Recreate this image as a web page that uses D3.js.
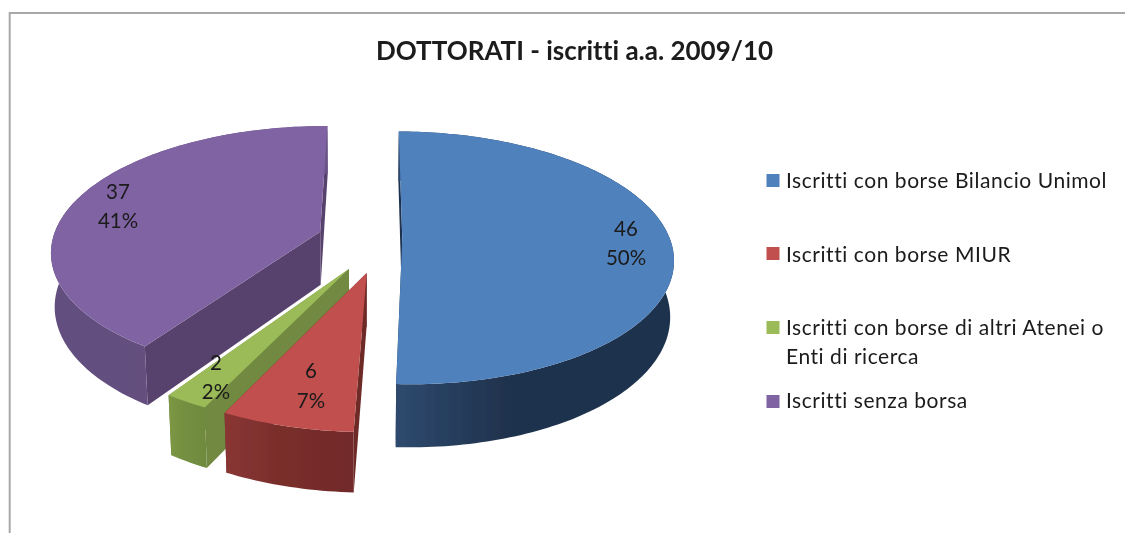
<!DOCTYPE html>
<html>
<head>
<meta charset="utf-8">
<script src="https://cdn.jsdelivr.net/npm/d3@7"></script>
<style>
html,body{margin:0;padding:0;background:#fff;overflow:hidden}
svg{display:block}
text{font-family:Lato,"Open Sans",sans-serif;fill:#1a1a1a;font-variant-ligatures:none}
</style>
</head>
<body>
<svg id="c" width="1125" height="533"></svg>
<script>
// ---- data ----
const categories = ["Iscritti con borse Bilancio Unimol","Iscritti con borse MIUR","Iscritti con borse di altri Atenei o Enti di ricerca","Iscritti senza borsa"];
const values = [46, 6, 2, 37];
const percentLabels = ["50%", "7%", "2%", "41%"];
const titleText = "DOTTORATI - iscritti a.a. 2009/10";

// ---- style / layout ----
const topColors = ["#4f81bd","#c0504d","#9bbb59","#8064a2"];
const faceColors = ["#1f334f","#6e2927","#71893f","#57426c"];
const rimGradient = [["#2e4a6e","#1f324d","#1f324d"],["#8a3634","#7a2e2c","#722a29"],["#7c9844","#748f40","#708a3e"],["#63507f","#65507f","#6a5388"]];
const legendBaselines = [[188],[262],[335,364],[408]];
const legendLines = [[categories[0]],[categories[1]],["Iscritti con borse di altri Atenei o","Enti di ricerca"],[categories[3]]];
const swatchTops = [174,247,321,395];
const labelPos = [[626,236,265],[311,378,408],[216,370,399],[118,199,228]];
// offset of each slice's apex on the disc (explosion) and its extruded depth
const explode = [[0.158,0.015],[0.024,0.281],[-0.04,0.25],[-0.15,-0.043]];
const depth = [56,52,53,54];
const P = {cx:360, cy:237, A:267, a:123, k:0.15, m:0.012};
const rotation = 0.0087;

const svg = d3.select("#c");
const defs = svg.append("defs");
defs.append("filter").attr("id","soft").attr("x","-5%").attr("y","-5%").attr("width","110%").attr("height","110%")
  .append("feGaussianBlur").attr("stdDeviation",0.45);
defs.append("filter").attr("id","softText").attr("x","-5%").attr("y","-20%").attr("width","110%").attr("height","140%")
  .append("feGaussianBlur").attr("stdDeviation",0.35);
rimGradient.forEach((g,i)=>{
  const lg = defs.append("linearGradient").attr("id","rim"+i);
  lg.append("stop").attr("offset","0%").attr("stop-color",g[0]);
  lg.append("stop").attr("offset","40%").attr("stop-color",g[1]);
  lg.append("stop").attr("offset","100%").attr("stop-color",g[2]);
});

// frame
svg.append("path").attr("d","M9.7,533V13H1125").attr("fill","none").attr("stroke","#a8a8a8").attr("stroke-width",2);

// pie layout: clockwise from the back of the disc
const arcs = d3.pie().sort(null).value(d=>d).startAngle(rotation).endAngle(2*Math.PI+rotation)(values);

// perspective projection of disc coordinates (z=0 top face, z=1 bottom face)
function project(u,v,z,d){
  const w = 1 - P.k*v + z*P.m;
  return [P.cx + P.A*u/w, P.cy + (P.a*v + z*d)/w];
}
const line = d3.line();
function rimAngles(s){
  const n = Math.max(4,Math.ceil((s.endAngle-s.startAngle)/0.02));
  return d3.range(n+1).map(i=>s.startAngle+(s.endAngle-s.startAngle)*i/n);
}
const pieG = svg.append("g").attr("filter","url(#soft)");
[3,2,1,0].forEach(i=>{
  const s = arcs[i], [u0,v0] = explode[i], d = depth[i];
  const rim = (t,z)=>project(u0+Math.sin(t),v0-Math.cos(t),z,d);
  const apex = z=>project(u0,v0,z,d);
  const ang = rimAngles(s);
  const g = pieG.append("g");
  // radial faces
  [s.startAngle,s.endAngle].forEach(t=>{
    g.append("path").attr("d",line([apex(0),rim(t,0),rim(t,1),apex(1)])+"Z").attr("fill",faceColors[i]);
  });
  // outer rim wall
  g.append("path")
    .attr("d",line(ang.map(t=>rim(t,0)).concat(ang.slice().reverse().map(t=>rim(t,1))))+"Z")
    .attr("fill","url(#rim"+i+")");
  // top face
  g.append("path")
    .attr("d",line([apex(0)].concat(ang.map(t=>rim(t,0))))+"Z")
    .attr("fill",topColors[i]);
});

// data labels
const labels = svg.append("g").attr("text-anchor","middle").style("font-size","20.5px").attr("filter","url(#softText)");
values.forEach((v,i)=>{
  labels.append("text").attr("x",labelPos[i][0]).attr("y",labelPos[i][1]).text(v);
  labels.append("text").attr("x",labelPos[i][0]).attr("y",labelPos[i][2]).text(percentLabels[i]);
});

// title
svg.append("text").attr("x",574.5).attr("y",60).attr("text-anchor","middle")
  .style("font-size","26px").style("font-weight","700").attr("filter","url(#softText)").text(titleText);

// legend
const leg = svg.append("g").attr("filter","url(#softText)");
categories.forEach((c,i)=>{
  leg.append("rect").attr("x",766.5).attr("y",swatchTops[i]).attr("width",13).attr("height",13).attr("fill",topColors[i]);
  legendLines[i].forEach((t,j)=>{
    leg.append("text").attr("x",786).attr("y",legendBaselines[i][j]).style("font-size","21px").style("letter-spacing","0.55px").text(t);
  });
});
</script>
</body>
</html>
